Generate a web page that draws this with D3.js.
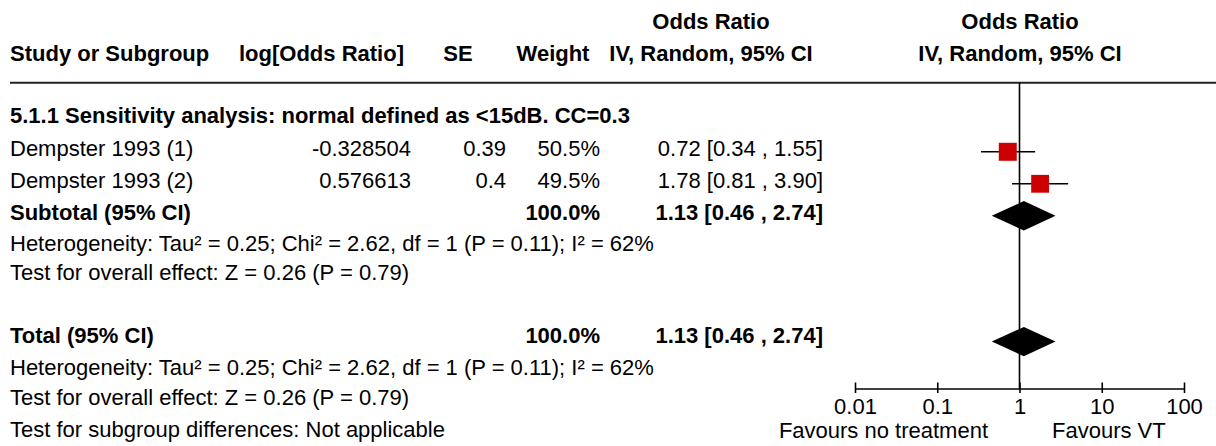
<!DOCTYPE html>
<html><head><meta charset="utf-8">
<script src="https://cdn.jsdelivr.net/npm/d3@7"></script>
<style>body{margin:0;background:#fff}svg{display:block}text{font-family:"Liberation Sans",Arial,sans-serif;font-size:22px;fill:#000}</style>
</head><body>
<script>
const studies = ["Dempster 1993 (1)", "Dempster 1993 (2)"];
const logOR = ["-0.328504", "0.576613"];
const seVals = ["0.39", "0.4"];
const weights = [50.5, 49.5];
const orVals = [0.72, 1.78];
const ciLow = [0.34, 0.81];
const ciHigh = [1.55, 3.90];
const pooled = {or: 1.13, lo: 0.46, hi: 2.74, weight: 100.0};
const tickValues = [0.01, 0.1, 1, 10, 100];
const tickLabels = ["0.01", "0.1", "1", "10", "100"];
const sectionTitle = "5.1.1 Sensitivity analysis: normal defined as <15dB. CC=0.3";
const hetText = "Heterogeneity: Tau\u00b2 = 0.25; Chi\u00b2 = 2.62, df = 1 (P = 0.11); I\u00b2 = 62%";
const effectText = "Test for overall effect: Z = 0.26 (P = 0.79)";
const subgroupText = "Test for subgroup differences: Not applicable";
const favLeft = "Favours no treatment", favRight = "Favours VT";

const W = 1216, H = 446;
const svg = d3.select("body").append("svg").attr("width", W).attr("height", H);
const x = d3.scaleLog().domain([0.01, 100]).range([855, 1184]);
// layout: text baselines per row
const rowBase = [123, 156, 188, 220, 251, 280, 311, 343, 375, 405, 437];
const base = i => rowBase[i];
const markY = i => (i === 7 ? rowBase[i] - 1.4 : rowBase[i] - 4.2);
const fmt2 = d3.format(".2f");
const ciStr = (o, l, h) => `${fmt2(o)} [${fmt2(l)} , ${fmt2(h)}]`;

function txt(s, xx, yy, anchor, bold) {
  svg.append("text").attr("x", xx).attr("y", yy).attr("text-anchor", anchor || "start")
    .attr("font-weight", bold ? "bold" : null).text(s);
}
// headers
txt("Odds Ratio", 711, 28.5, "middle", true);
txt("Odds Ratio", 1020, 28.5, "middle", true);
txt("Study or Subgroup", 10, 61, "start", true);
txt("log[Odds Ratio]", 321.5, 61, "middle", true);
txt("SE", 458, 61, "middle", true);
txt("Weight", 553, 61, "middle", true);
txt("IV, Random, 95% CI", 711, 61, "middle", true);
txt("IV, Random, 95% CI", 1020, 61, "middle", true);

svg.append("line").attr("x1", 10).attr("x2", W).attr("y1", 82.7).attr("y2", 82.7)
  .attr("stroke", "#222").attr("stroke-width", 2);

txt(sectionTitle, 10, base(0), "start", true);
studies.forEach((s, i) => {
  const r = i + 1;
  txt(s, 10, base(r));
  txt(logOR[i], 411, base(r), "end");
  txt(seVals[i], 506, base(r), "end");
  txt(weights[i].toFixed(1) + "%", 600, base(r), "end");
  txt(ciStr(orVals[i], ciLow[i], ciHigh[i]), 823, base(r), "end");
});
txt("Subtotal (95% CI)", 10, base(3), "start", true);
txt(pooled.weight.toFixed(1) + "%", 600, base(3), "end", true);
txt(ciStr(pooled.or, pooled.lo, pooled.hi), 823, base(3), "end", true);
txt(hetText, 10, base(4));
txt(effectText, 10, base(5));
txt("Total (95% CI)", 10, base(7), "start", true);
txt(pooled.weight.toFixed(1) + "%", 600, base(7), "end", true);
txt(ciStr(pooled.or, pooled.lo, pooled.hi), 823, base(7), "end", true);
txt(hetText, 10, base(8));
txt(effectText, 10, base(9));
txt(subgroupText, 10, base(10));

// plot
const axisY = 388.5;
svg.append("line").attr("x1", x(1)).attr("x2", x(1)).attr("y1", 83).attr("y2", axisY)
  .attr("stroke", "#000").attr("stroke-width", 1.6);

studies.forEach((s, i) => {
  const r = i + 1, cy = markY(r);
  svg.append("line").attr("x1", x(ciLow[i])).attr("x2", x(ciHigh[i])).attr("y1", cy).attr("y2", cy)
    .attr("stroke", "#000").attr("stroke-width", 1.5);
  const side = 2.53 * Math.sqrt(weights[i]);
  svg.append("rect").attr("x", x(orVals[i]) - side / 2).attr("y", cy - side / 2)
    .attr("width", side).attr("height", side).attr("fill", "#cc0000");
});
function diamond(r) {
  const cy = markY(r), h = 14.7;
  const pts = [[x(pooled.lo), cy], [x(pooled.or), cy - h], [x(pooled.hi), cy], [x(pooled.or), cy + h]];
  svg.append("polygon").attr("points", pts.map(p => p.join(",")).join(" ")).attr("fill", "#000");
}
diamond(3);
diamond(7);

const axis = d3.axisBottom(x).tickValues(tickValues).tickFormat((d, i) => tickLabels[i])
  .tickSize(-6).tickSizeOuter(0).tickPadding(10);
const g = svg.append("g").attr("transform", `translate(0,${axisY})`).call(axis);
g.select(".domain").attr("stroke", "#000").attr("stroke-width", 1.6);
g.selectAll(".tick line").attr("stroke", "#000").attr("stroke-width", 1.6).attr("y1", 4.5);
g.selectAll(".tick text").attr("font-size", 22).attr("font-family", '"Liberation Sans",Arial,sans-serif').attr("fill", "#000");

txt(favLeft, 988, 438, "end");
txt(favRight, 1052, 438, "start");
</script>
</body></html>
